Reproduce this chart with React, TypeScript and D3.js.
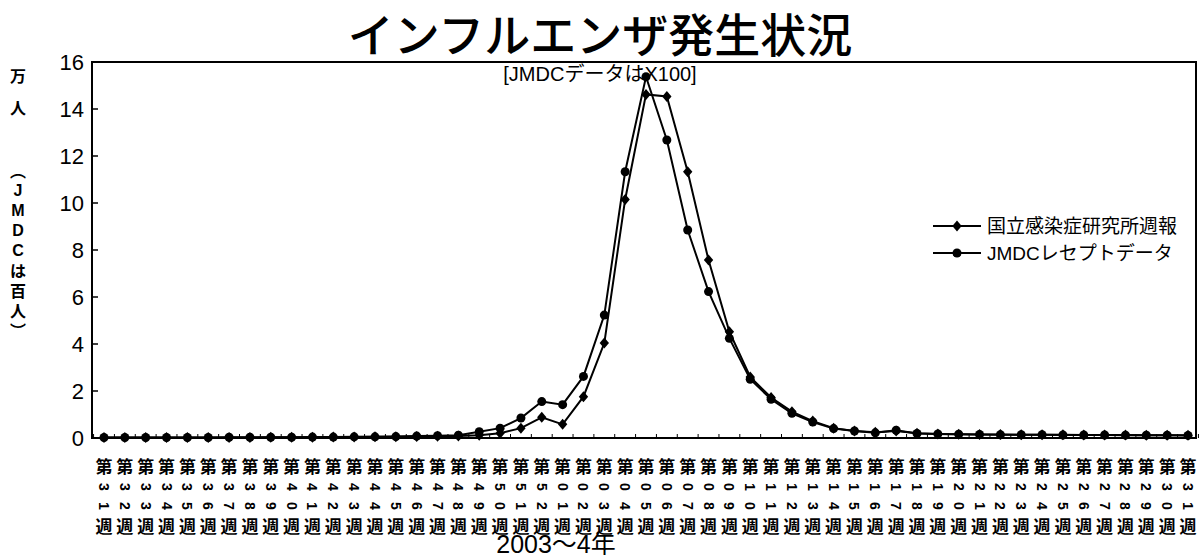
import React from "react";
import * as d3 from "d3";

// Week labels: week 31 of 2003 through week 31 of 2004
const weeks = [
  "31", "32", "33", "34", "35", "36", "37", "38", "39", "40", "41", "42", "43", "44",
  "45", "46", "47", "48", "49", "50", "51", "52", "01", "02", "03", "04", "05", "06",
  "07", "08", "09", "10", "11", "12", "13", "14", "15", "16", "17", "18", "19", "20",
  "21", "22", "23", "24", "25", "26", "27", "28", "29", "30", "31",
];

// 国立感染症研究所週報 (万人)
const nihValues = [
  0.02, 0.02, 0.02, 0.02, 0.02, 0.02, 0.02, 0.02, 0.03, 0.03, 0.03, 0.04, 0.04, 0.05,
  0.05, 0.06, 0.07, 0.08, 0.12, 0.2, 0.42, 0.88, 0.58, 1.76, 4.04, 10.15, 14.62, 14.53,
  11.33, 7.57, 4.52, 2.6, 1.72, 1.12, 0.72, 0.42, 0.3, 0.24, 0.3, 0.2, 0.17, 0.16,
  0.15, 0.15, 0.14, 0.14, 0.14, 0.13, 0.13, 0.13, 0.12, 0.12, 0.12,
];

// JMDCレセプトデータ (百人)
const jmdcValues = [
  0.02, 0.02, 0.02, 0.02, 0.02, 0.02, 0.03, 0.03, 0.03, 0.03, 0.04, 0.04, 0.05, 0.05,
  0.06, 0.08, 0.1, 0.12, 0.27, 0.42, 0.85, 1.55, 1.42, 2.62, 5.23, 11.33, 15.37, 12.68,
  8.85, 6.23, 4.24, 2.5, 1.65, 1.05, 0.68, 0.4, 0.3, 0.22, 0.33, 0.19, 0.17, 0.16,
  0.15, 0.14, 0.14, 0.14, 0.13, 0.13, 0.13, 0.12, 0.12, 0.12, 0.11,
];

const yTicks = [0, 2, 4, 6, 8, 10, 12, 14, 16];

const seriesNames = ["国立感染症研究所週報", "JMDCレセプトデータ"];
const titleText = "インフルエンザ発生状況";
const noteText = "[JMDCデータはX100]";
const xTitle = "2003～4年";
const yTitleTop = ["万", "人"];
const yTitleSub = ["︵", "J", "M", "D", "C", "は", "百", "人", "︶"];

const W = 1204;
const H = 555;
const plot = { left: 92, right: 1196, top: 62, bottom: 438 };

const JP = "'Noto Sans CJK JP', sans-serif";
const LATIN = "'Liberation Sans', 'Noto Sans CJK JP', sans-serif";

function Diamond({ cx, cy, r }: { cx: number; cy: number; r: number }) {
  return (
    <path
      d={`M${cx},${cy - r}L${cx + r * 0.85},${cy}L${cx},${cy + r}L${cx - r * 0.85},${cy}Z`}
      fill="#000"
    />
  );
}

export default function App() {
  const idx = d3.range(weeks.length);
  const x = d3.scalePoint<number>().domain(idx).range([104, 1188]);
  const y = d3.scaleLinear().domain([0, 16]).range([plot.bottom, plot.top]);
  const step = x.step();

  const line = d3
    .line<number>()
    .x((_, i) => x(i) as number)
    .y((d) => y(d));

  return (
    <div style={{ position: "absolute", left: 0, top: 0 }}>
      <svg width={W} height={H} style={{ display: "block", background: "#fff" }}>
        <rect width={W} height={H} fill="#fff" />

        {/* title */}
        <text
          x={600}
          y={32}
          textAnchor="middle"
          dominantBaseline="central"
          fontFamily={JP}
          fontSize={46}
          fontWeight={500}
          fill="#000"
        >
          {titleText}
        </text>

        {/* plot frame */}
        <rect
          x={plot.left}
          y={plot.top}
          width={plot.right - plot.left}
          height={plot.bottom - plot.top}
          fill="none"
          stroke="#000"
          strokeWidth={2}
        />

        {/* y axis ticks and labels */}
        {yTicks.map((t) => (
          <g key={t}>
            <line x1={plot.left} x2={plot.left + 6} y1={y(t)} y2={y(t)} stroke="#000" strokeWidth={1.5} />
            <text
              x={84}
              y={y(t)}
              textAnchor="end"
              dominantBaseline="central"
              fontFamily={LATIN}
              fontSize={22}
              fill="#000"
            >
              {t}
            </text>
          </g>
        ))}

        {/* x axis ticks between categories */}
        {d3.range(weeks.length + 1).map((i) => {
          const xx = (x(0) as number) - step / 2 + i * step;
          return (
            <line key={i} x1={xx} x2={xx} y1={plot.bottom} y2={plot.bottom - 4} stroke="#000" strokeWidth={1} />
          );
        })}

        {/* vertical week labels */}
        {weeks.map((w, i) => {
          const cx = x(i) as number;
          return (
            <g key={i} fontFamily={JP} fill="#000">
              <text x={cx} y={465} textAnchor="middle" dominantBaseline="central" fontSize={17} fontWeight={700}>
                第
              </text>
              {w.split("").map((c, k) => (
                <text
                  key={k}
                  transform={`translate(${cx},${487 + k * 19}) rotate(90)`}
                  textAnchor="middle"
                  dominantBaseline="central"
                  fontFamily={LATIN}
                  fontSize={14}
                  fontWeight={700}
                >
                  {c}
                </text>
              ))}
              <text x={cx} y={525} textAnchor="middle" dominantBaseline="central" fontSize={17} fontWeight={700}>
                週
              </text>
            </g>
          );
        })}

        {/* x axis title */}
        <text x={556} y={553} textAnchor="middle" fontFamily={LATIN} fontSize={25} fill="#000">
          {xTitle}
        </text>

        {/* y axis title, written vertically */}
        {yTitleTop.map((c, k) => (
          <text
            key={"a" + k}
            x={18}
            y={75 + k * 32}
            textAnchor="middle"
            dominantBaseline="central"
            fontFamily={JP}
            fontSize={16}
            fontWeight={700}
            fill="#000"
          >
            {c}
          </text>
        ))}
        {yTitleSub.map((c, k) => (
          <text
            key={"b" + k}
            x={18}
            y={170 + k * 20}
            textAnchor="middle"
            dominantBaseline="central"
            fontFamily={/[A-Z]/.test(c) ? LATIN : JP}
            fontSize={16}
            fontWeight={700}
            fill="#000"
          >
            {c}
          </text>
        ))}

        {/* series lines */}
        <path d={line(nihValues) || ""} fill="none" stroke="#000" strokeWidth={2} />
        <path d={line(jmdcValues) || ""} fill="none" stroke="#000" strokeWidth={2} />
        {nihValues.map((v, i) => (
          <Diamond key={"d" + i} cx={x(i) as number} cy={y(v)} r={5.5} />
        ))}
        {jmdcValues.map((v, i) => (
          <circle key={"c" + i} cx={x(i) as number} cy={y(v)} r={4.5} fill="#000" />
        ))}

        {/* note under the frame top */}
        <text
          x={600}
          y={74}
          textAnchor="middle"
          dominantBaseline="central"
          fontFamily={LATIN}
          fontSize={20}
          fill="#000"
        >
          {noteText}
        </text>

        {/* legend */}
        {seriesNames.map((name, k) => {
          const ly = 226 + k * 27;
          return (
            <g key={name}>
              <line x1={933} x2={981} y1={ly} y2={ly} stroke="#000" strokeWidth={2} />
              {k === 0 ? <Diamond cx={957} cy={ly} r={5.5} /> : <circle cx={957} cy={ly} r={4.5} fill="#000" />}
              <text
                x={987}
                y={ly}
                dominantBaseline="central"
                fontFamily={LATIN}
                fontSize={19}
                fill="#000"
              >
                {name}
              </text>
            </g>
          );
        })}
      </svg>
    </div>
  );
}
